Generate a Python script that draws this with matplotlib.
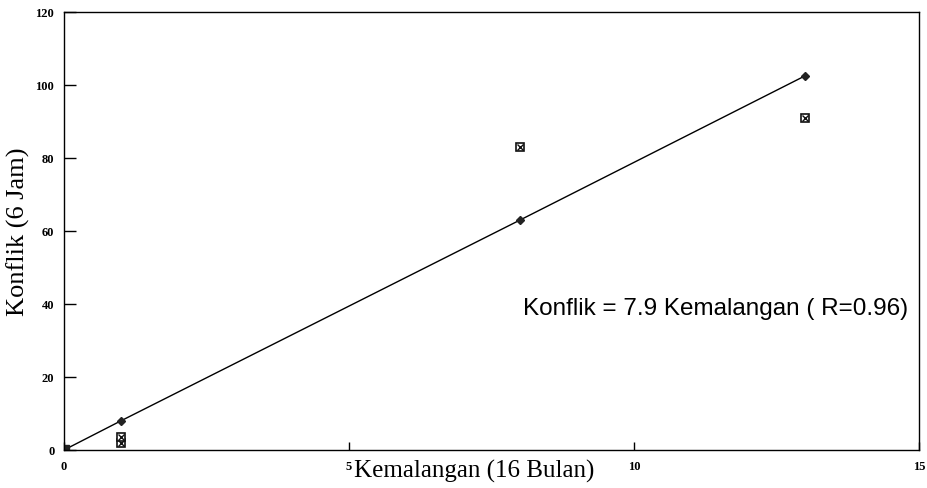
import matplotlib.pyplot as plt

# Fitted line (Konflik = 7.9 Kemalangan)
fit_x = [0, 1, 8, 13]
fit_y = [0, 8, 63, 102.5]

# Observed values
obs_x = [0, 1, 1, 8, 13]
obs_y = [0, 2, 3.5, 83, 91]

x_ticks = [0, 5, 10, 15]
y_ticks = [0, 20, 40, 60, 80, 100, 120]

fig = plt.figure(figsize=(9.27, 4.89), dpi=100)
ax = fig.add_axes([64 / 927, 38 / 489, 855 / 927, 438 / 489])

ax.plot(fit_x, fit_y, color='black', lw=1.0, marker='D', ms=4, mfc='#222222', mec='#222222')
ax.plot(obs_x, obs_y, ls='none', marker='s', ms=6, mfc='white', mec='#111111', mew=1.2)
ax.plot(obs_x, obs_y, ls='none', marker='x', ms=4, color='#111111', mew=1.0)
ax.plot([0], [0], ls='none', marker='s', ms=7, color='#222222')

ax.set_xlim(0, 15)
ax.set_ylim(0, 120)
ax.set_xticks(x_ticks)
ax.set_yticks(y_ticks)
ax.tick_params(direction='in', width=1, labelsize=9, pad=7)
ax.tick_params(axis='y', length=8.5)
ax.tick_params(axis='x', length=6)
for lab in ax.get_xticklabels() + ax.get_yticklabels():
    lab.set_fontfamily('Liberation Serif')
    lab.set_fontweight('bold')
for s in ax.spines.values():
    s.set_linewidth(1.0)

ax.set_xlabel('Kemalangan (16 Bulan)', fontfamily='Liberation Serif', fontsize=18)
ax.xaxis.set_label_coords(0.48, -0.02, transform=ax.transAxes)
ax.xaxis.label.set_va('top')
ax.set_ylabel('Konflik (6 Jam)', fontfamily='Liberation Serif', fontsize=19, labelpad=4)

ax.text(8.05, 39, 'Konflik = 7.9 Kemalangan ( R=0.96)', fontfamily='Liberation Sans',
        fontsize=17.5, va='center', ha='left')

fig.savefig('out.png', dpi=100)
